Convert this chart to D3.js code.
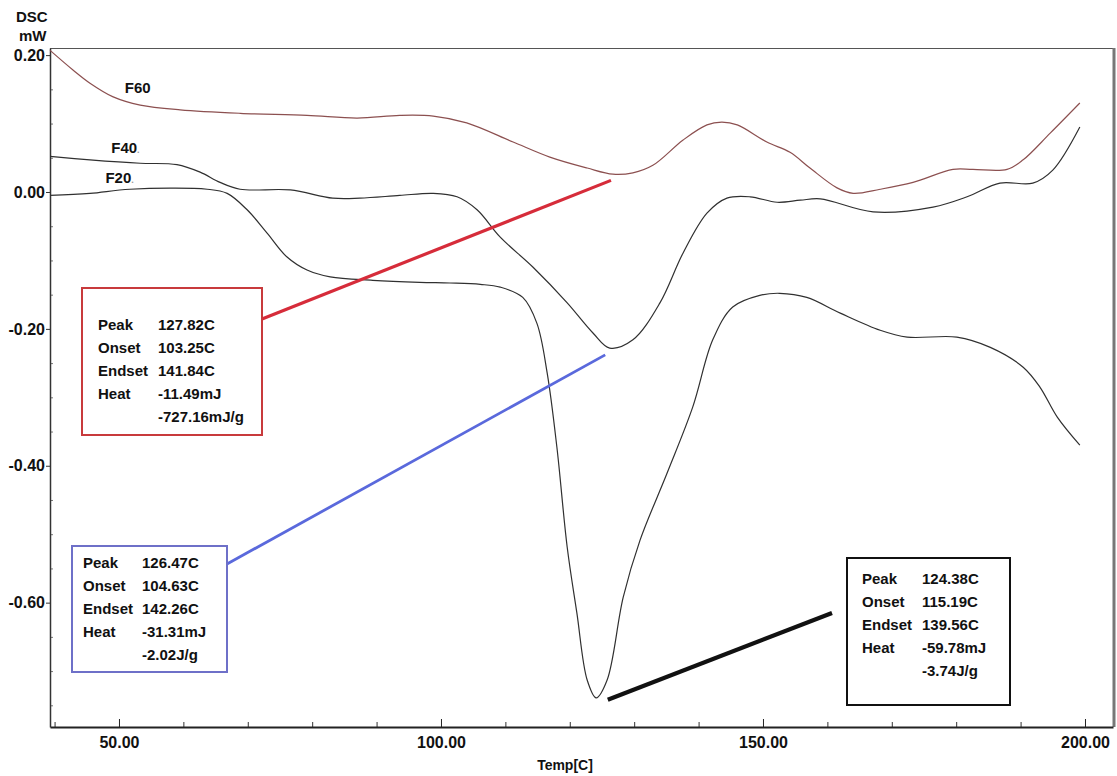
<!DOCTYPE html>
<html>
<head>
<meta charset="utf-8">
<script src="https://cdn.jsdelivr.net/npm/d3@7"></script>
<style>
	body { margin: 0; background: #fff; }
	svg text { font-family: "Liberation Sans", Arial, sans-serif; font-weight: bold; fill: #111; }
</style>
</head>
<body>
<div id="chart"></div>
<script>

// [temperature C, heat flow mW]
const f60Data = [
	[39.3, 0.207], [42.9, 0.178], [45.5, 0.159], [49.1, 0.139], [53.3, 0.127],
	[59.5, 0.120], [68.8, 0.115], [79.2, 0.112], [87.0, 0.108], [93.6, 0.112],
	[98.8, 0.111], [104.0, 0.101], [111.2, 0.073], [116.9, 0.051], [122.7, 0.035],
	[126.7, 0.026], [129.8, 0.028], [132.9, 0.039], [137.6, 0.076], [141.3, 0.098],
	[143.6, 0.102], [146.0, 0.098], [150.6, 0.073], [154.2, 0.058], [157.3, 0.035],
	[161.5, 0.006], [164.0, -0.002], [168.2, 0.004], [173.3, 0.014], [179.5, 0.033],
	[182.6, 0.033], [187.9, 0.033], [190.4, 0.047], [194.6, 0.086], [199.2, 0.130]
];

const f40Data = [
	[39.3, 0.052], [45.5, 0.047], [53.3, 0.042], [59.0, 0.040], [62.6, 0.029],
	[65.7, 0.014], [68.8, 0.004], [76.6, 0.003], [83.2, -0.009], [87.4, -0.009],
	[93.6, -0.005], [98.8, -0.002], [102.5, -0.007], [105.6, -0.026], [109.2, -0.066],
	[114.3, -0.110], [119.6, -0.162], [123.6, -0.206], [126.2, -0.228], [129.8, -0.216],
	[134.0, -0.162], [137.6, -0.089], [141.3, -0.031], [144.4, -0.009], [148.0, -0.007],
	[152.2, -0.015], [155.8, -0.012], [158.9, -0.010], [167.1, -0.029], [176.4, -0.022],
	[181.7, -0.007], [186.8, 0.013], [191.9, 0.013], [195.0, 0.032], [199.2, 0.095]
];

const f20Data = [
	[39.3, -0.005], [45.5, -0.002], [51.7, 0.004], [63.7, 0.004], [66.8, -0.002],
	[69.9, -0.026], [73.0, -0.060], [76.1, -0.095], [79.2, -0.114], [82.8, -0.124],
	[89.4, -0.129], [96.7, -0.132], [101.4, -0.133], [106.1, -0.135], [109.2, -0.139],
	[112.7, -0.154], [114.9, -0.192], [116.5, -0.265], [118.0, -0.373], [119.6, -0.519],
	[121.1, -0.615], [122.7, -0.713], [124.1, -0.739], [125.8, -0.713], [128.3, -0.592],
	[130.9, -0.509], [135.1, -0.411], [139.1, -0.314], [142.2, -0.216], [145.3, -0.168],
	[149.5, -0.151], [152.6, -0.148], [156.8, -0.154], [162.0, -0.177], [168.2, -0.202],
	[172.4, -0.212], [180.1, -0.212], [185.3, -0.227], [190.4, -0.256], [193.0, -0.285],
	[195.7, -0.329], [199.2, -0.370]
];

const seriesNames = ['F60', 'F40', 'F20'];
const seriesData = [f60Data, f40Data, f20Data];
// where each name sits, in data units
const seriesLabelAt = [[50.9, 0.145], [48.8, 0.057], [47.9, 0.013]];

const xMajorTicks = [50, 100, 150, 200];
const xTickLabels = ['50.00', '100.00', '150.00', '200.00'];
const xMinorTicks = [40, 60, 70, 80, 90, 110, 120, 130, 140, 160, 170, 180, 190];

const yMajorTicks = [0.2, 0, -0.2, -0.4, -0.6];
const yTickLabels = ['0.20', '0.00', '-0.20', '-0.40', '-0.60'];
const yMinorTicks = [0.15, 0.1, 0.05, -0.05, -0.1, -0.15, -0.25, -0.3, -0.35,
	-0.45, -0.5, -0.55, -0.65, -0.7, -0.75];

const resultLabels = ['Peak', 'Onset', 'Endset', 'Heat', ''];
const f60Results = ['127.82C', '103.25C', '141.84C', '-11.49mJ', '-727.16mJ/g'];
const f40Results = ['126.47C', '104.63C', '142.26C', '-31.31mJ', '-2.02J/g'];
const f20Results = ['124.38C', '115.19C', '139.56C', '-59.78mJ', '-3.74J/g'];
// point of the curve each leader line touches [C, mW]
const resultAnchors = [[126.4, 0.017], [125.5, -0.238], [125.9, -0.742]];


class DscChart {

	constructor(element) {
		this.element = element;
		this.draw();
	}

	draw() {
		this.width = 1117;
		this.height = 776;
		this.plot = { left: 50, top: 48, right: 1113, bottom: 727 };

		this.createSVG();
		this.createScales();
		this.createAxes();
		this.createCurves();
		this.createResults();
	}

	createSVG() {
		this.svg = d3.select(this.element)
			.append('svg')
				.attr('width', this.width)
				.attr('height', this.height);
	}

	createScales() {
		this.xScale = d3.scaleLinear()
			.domain([39.29, 204.35])
			.range([this.plot.left, this.plot.right]);

		this.yScale = d3.scaleLinear()
			.domain([-0.7817, 0.2104])
			.range([this.plot.bottom, this.plot.top]);
	}

	createAxes() {
		const p = this.plot;

		// frame, top and right
		this.svg.append('line')
			.attr('x1', p.left).attr('x2', p.right)
			.attr('y1', p.top + 0.5).attr('y2', p.top + 0.5)
			.attr('stroke', '#555');
		this.svg.append('line')
			.attr('x1', p.right + 1).attr('x2', p.right + 1)
			.attr('y1', p.top).attr('y2', p.bottom)
			.attr('stroke', '#777').attr('stroke-width', 3);

		const xMinor = d3.axisBottom(this.xScale)
			.tickValues(xMinorTicks)
			.tickSize(-5).tickSizeOuter(0)
			.tickFormat('');
		this.svg.append('g')
			.attr('transform', `translate(0, ${p.bottom})`)
			.call(xMinor)
			.call(g => g.select('.domain').remove())
			.selectAll('line').attr('stroke', '#333');

		const xAxis = d3.axisBottom(this.xScale)
			.tickValues(xMajorTicks)
			.tickSize(-8).tickSizeOuter(0)
			.tickPadding(10)
			.tickFormat((d, i) => xTickLabels[i]);
		const gx = this.svg.append('g')
			.attr('transform', `translate(0, ${p.bottom})`)
			.call(xAxis);
		gx.select('.domain').attr('stroke', '#222').attr('stroke-width', 2);
		gx.selectAll('line').attr('stroke', '#222');
		gx.selectAll('text')
			.attr('font-size', 16)
			.attr('fill', '#111');

		const yMinor = d3.axisLeft(this.yScale)
			.tickValues(yMinorTicks)
			.tickSize(-3).tickSizeOuter(0)
			.tickFormat('');
		this.svg.append('g')
			.attr('transform', `translate(${p.left}, 0)`)
			.call(yMinor)
			.call(g => g.select('.domain').remove())
			.selectAll('line').attr('stroke', '#777');

		const yAxis = d3.axisLeft(this.yScale)
			.tickValues(yMajorTicks)
			.tickSize(4).tickSizeOuter(0)
			.tickPadding(1)
			.tickFormat((d, i) => yTickLabels[i]);
		const gy = this.svg.append('g')
			.attr('transform', `translate(${p.left}, 0)`)
			.call(yAxis);
		gy.select('.domain').attr('stroke', '#333').attr('stroke-width', 1.5);
		gy.selectAll('line').attr('stroke', '#333');
		gy.selectAll('text')
			.attr('font-size', 16)
			.attr('fill', '#111');

		this.svg.append('text')
			.attr('x', 16).attr('y', 22)
			.attr('font-size', 15)
			.text('DSC');
		this.svg.append('text')
			.attr('x', 19).attr('y', 41)
			.attr('font-size', 15)
			.text('mW');
		this.svg.append('text')
			.attr('x', 565).attr('y', 770)
			.attr('text-anchor', 'middle')
			.attr('font-size', 14)
			.text('Temp[C]');
	}

	createCurves() {
		const that = this;
		const colors = ['#8c5050', '#303030', '#303030'];

		const line = d3.line()
			.x(d => that.xScale(d[0]))
			.y(d => that.yScale(d[1]))
			.curve(d3.curveCatmullRom.alpha(0.5));

		this.svg.append('g')
			.selectAll('path')
			.data(seriesData).enter()
			.append('path')
				.attr('d', line)
				.attr('fill', 'none')
				.attr('stroke', (d, i) => colors[i])
				.attr('stroke-width', 1.2);

		const labels = this.svg.append('g')
			.selectAll('text')
			.data(seriesNames).enter()
			.append('text')
				.attr('x', (d, i) => that.xScale(seriesLabelAt[i][0]))
				.attr('y', (d, i) => that.yScale(seriesLabelAt[i][1]))
				.attr('font-size', 15)
				.text(d => d);

		labels.filter((d, i) => i > 0)
			.append('tspan')
				.attr('fill', '#999')
				.attr('font-size', 9)
				.text('.');
	}

	createResults() {
		const that = this;

		// box geometry in pixels, one per result
		const boxes = [
			{ x: 82, y: 288, w: 180, h: 147, first: 42, labelX: 16, valueX: 76,
				lineFrom: [262, 319], color: '#c83a3c', lineColor: '#d62c3a', lineWidth: 3.2 },
			{ x: 72, y: 546, w: 155, h: 126, first: 22, labelX: 11, valueX: 70,
				lineFrom: [227, 564], color: '#6e70c8', lineColor: '#5a69dc', lineWidth: 2.8 },
			{ x: 847, y: 558, w: 163, h: 147, first: 26, labelX: 15, valueX: 75,
				lineFrom: [832, 613], color: '#111', lineColor: '#111', lineWidth: 4.2 }
		];
		const results = [f60Results, f40Results, f20Results];
		const rowStep = 23;

		boxes.forEach(function(b, i) {
			const g = that.svg.append('g');
			const a = resultAnchors[i];

			g.append('line')
				.attr('x1', b.lineFrom[0]).attr('y1', b.lineFrom[1])
				.attr('x2', that.xScale(a[0])).attr('y2', that.yScale(a[1]))
				.attr('stroke', b.lineColor)
				.attr('stroke-width', b.lineWidth);

			g.append('rect')
				.attr('x', b.x).attr('y', b.y)
				.attr('width', b.w).attr('height', b.h)
				.attr('fill', '#fff')
				.attr('stroke', b.color)
				.attr('stroke-width', 2);

			g.selectAll('text.lbl')
				.data(resultLabels).enter()
				.append('text')
					.attr('x', b.x + b.labelX)
					.attr('y', (d, k) => b.y + b.first + k * rowStep)
					.attr('font-size', 15)
					.text(d => d);

			g.selectAll('text.val')
				.data(results[i]).enter()
				.append('text')
					.attr('x', b.x + b.valueX)
					.attr('y', (d, k) => b.y + b.first + k * rowStep)
					.attr('font-size', 15)
					.text(d => d);
		});
	}

}

new DscChart(document.getElementById('chart'));

</script>
</body>
</html>
